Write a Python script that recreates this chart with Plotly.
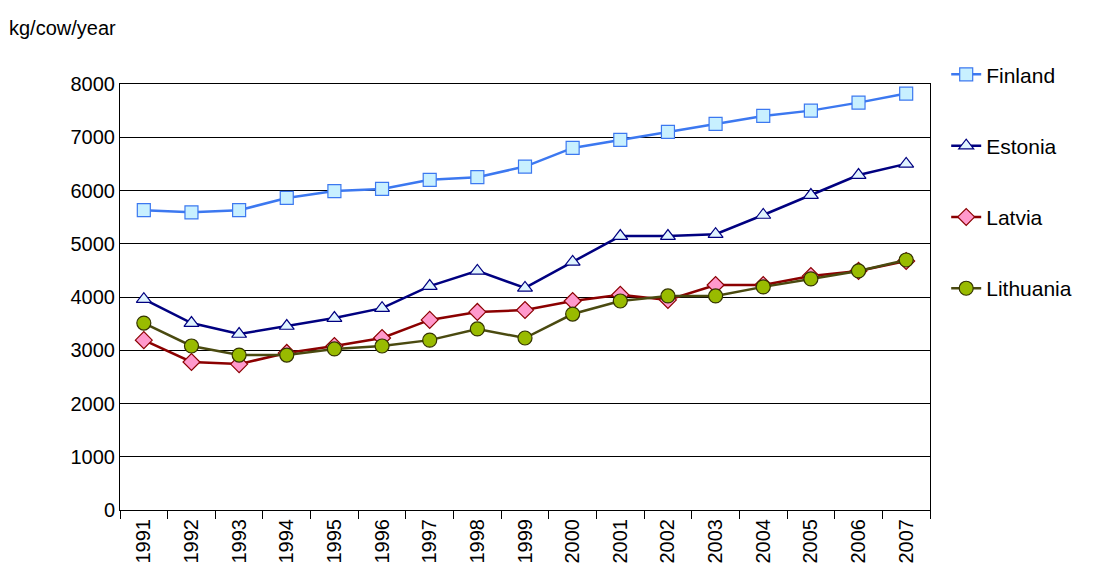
import plotly.graph_objects as go

years = [str(y) for y in range(1991, 2008)]
finland = [5630,5590,5630,5860,5990,6030,6200,6250,6450,6800,6950,7100,7250,7400,7500,7650,7820]
estonia = [3960,3510,3305,3455,3605,3790,4205,4490,4170,4660,5145,5145,5180,5540,5915,6290,6500]
latvia = [3190,2780,2740,2950,3080,3230,3570,3720,3755,3925,4040,3945,4225,4225,4395,4490,4675]
lithuania = [3510,3080,2910,2910,3025,3080,3190,3400,3230,3680,3925,4020,4020,4190,4340,4490,4695]

series = [
    ("Finland", finland, "#3C78F0", "square", "#C8F0FF"),
    ("Estonia", estonia, "#000080", "triangle-up", "#E0F4FF"),
    ("Latvia", latvia, "#8B0000", "diamond", "#FF99CC"),
    ("Lithuania", lithuania, "#4A4A10", "circle", "#99BB00"),
]

fig = go.Figure()
for i, (name, vals, lc, sym, fc) in enumerate(series):
    fig.add_trace(go.Scatter(
        x=years, y=vals, name=name, mode="lines+markers", legendgroup=str(i),
        line=dict(color=lc, width=2.5),
        marker=dict(symbol=sym, size=13 if sym != "circle" else 14, color=fc,
                    line=dict(color=lc if sym != "circle" else "#333300", width=1.2)),
    ))

fig.update_layout(
    width=1104, height=568, paper_bgcolor="white", plot_bgcolor="white",
    margin=dict(l=112, r=182, t=76, b=66, autoexpand=False),
    font=dict(family="Liberation Sans, Arial", size=20, color="black"),
    legend=dict(x=1.02, y=1.07, xanchor="left", yanchor="top", tracegroupgap=41,
                font=dict(size=21)),
)
fig.add_annotation(text="kg/cow/year", xref="paper", yref="paper", x=-0.14, y=1.1,
                   xanchor="left", yanchor="bottom", showarrow=False, font=dict(size=20))
fig.update_yaxes(range=[0, 8000], dtick=1000, showgrid=True, gridcolor="black", gridwidth=1,
                 showline=True, linecolor="black", mirror=True, ticks="", zeroline=False,
                 automargin=False)
fig.update_xaxes(tickangle=-90, showline=True, linecolor="black", mirror=True, range=[-0.5, 16.5],
                 ticks="outside", tickson="boundaries", ticklen=8, tickcolor="black", showgrid=False,
                 automargin=False)
fig.write_html("out.html")
